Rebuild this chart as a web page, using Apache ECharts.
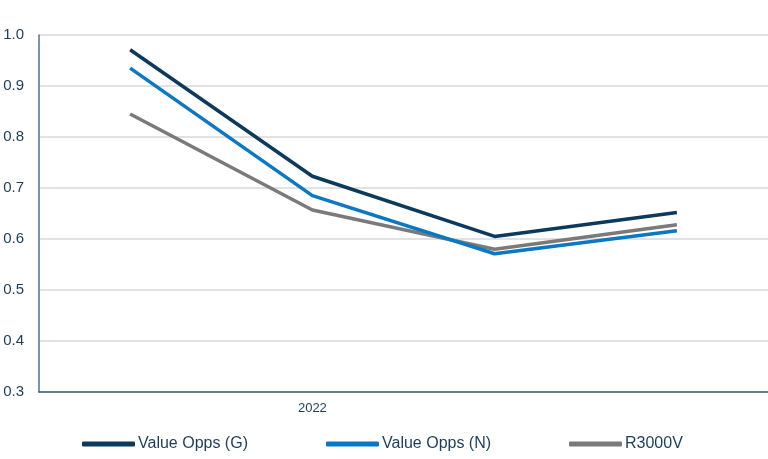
<!DOCTYPE html>
<html>
<head>
<meta charset="utf-8">
<script src="https://cdn.jsdelivr.net/npm/echarts@6/dist/echarts.min.js"></script>
<style>
  html, body { margin: 0; padding: 0; background: #fff; }
  #chart { width: 768px; height: 459px; }
</style>
</head>
<body>
<div id="chart"></div>
<script>
const categories = ['', '2022', '', ''];
const valueOppsG = [0.971, 0.723, 0.605, 0.652];
const valueOppsN = [0.935, 0.685, 0.571, 0.616];
const r3000v = [0.845, 0.657, 0.580, 0.628];

const names = ['Value Opps (G)', 'Value Opps (N)', 'R3000V'];
const colors = ['#0b3a5c', '#0a78c2', '#7a7a7a'];
const legendLeft = [77, 321, 564];
const textColor = '#1c3d5a';

const chart = echarts.init(document.getElementById('chart'));

const legends = names.map((n, i) => ({
  data: [n],
  left: legendLeft[i],
  top: 431,
  icon: 'roundRect',
  itemWidth: 53,
  itemHeight: 5,
  itemGap: 0,
  textStyle: { color: textColor, fontSize: 16, fontFamily: 'Liberation Sans', padding: [0, 0, 0, -2] }
}));

const option = {
  animation: false,
  color: colors,
  grid: { left: 39, right: 0, top: 35, bottom: 67 },
  legend: legends,
  xAxis: {
    type: 'category',
    data: categories,
    boundaryGap: true,
    axisLine: { lineStyle: { color: '#3d5f7e', width: 1.5 } },
    axisTick: { show: false },
    axisLabel: { color: textColor, fontSize: 13, fontFamily: 'Liberation Sans', margin: 10 }
  },
  yAxis: {
    type: 'value',
    min: 0.3,
    max: 1.0,
    interval: 0.1,
    axisLine: { show: true, lineStyle: { color: '#4f7190', width: 1.5 } },
    axisTick: { show: false },
    axisLabel: {
      color: textColor, fontSize: 15, fontFamily: 'Liberation Sans', margin: 15,
      formatter: v => v.toFixed(1)
    },
    splitLine: { lineStyle: { color: '#d9d9d9', width: 1.5 } }
  },
  series: [
    { name: names[0], type: 'line', data: valueOppsG },
    { name: names[1], type: 'line', data: valueOppsN },
    { name: names[2], type: 'line', data: r3000v }
  ].map((s, i) => Object.assign(s, {
    symbol: 'none',
    lineStyle: { width: 3.5, color: colors[i] },
    itemStyle: { color: colors[i] },
    z: 3 - i
  }))
};

chart.setOption(option);
</script>
</body>
</html>
